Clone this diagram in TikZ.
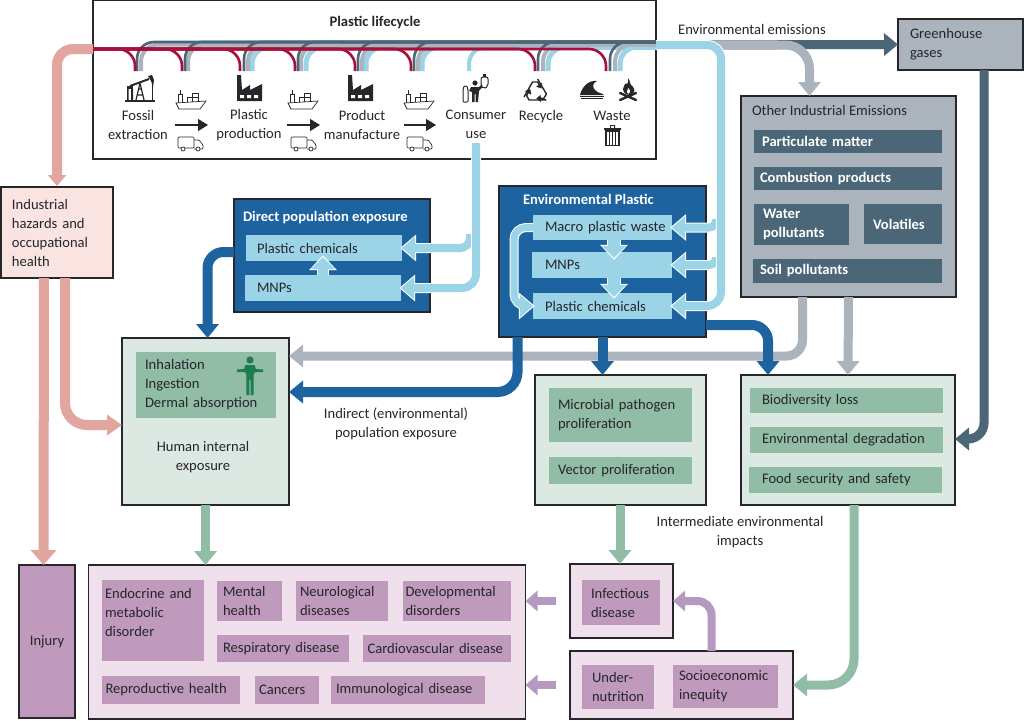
\documentclass[tikz,border=0pt]{standalone}
\usepackage{fontspec}
\setmainfont{Carlito}
\usetikzlibrary{arrows.meta}

\definecolor{inkc}{HTML}{26262B}
\definecolor{redc}{HTML}{A80F3C}
\definecolor{pinkc}{HTML}{E3A59F}
\definecolor{palepink}{HTML}{F9E4E2}
\definecolor{slatec}{HTML}{4B6777}
\definecolor{grayc}{HTML}{ABB4BC}
\definecolor{lightc}{HTML}{9BD4E7}
\definecolor{deepc}{HTML}{1D639F}
\definecolor{greenc}{HTML}{91BCA6}
\definecolor{palegreen}{HTML}{DCE8E2}
\definecolor{plumc}{HTML}{BF9ABD}
\definecolor{paleplum}{HTML}{EFE0EC}
\definecolor{mauvec}{HTML}{B59ABF}
\definecolor{manc}{HTML}{1E7D4F}

\tikzset{
  lab/.style={font=\fontsize{14.6}{19}\selectfont,text=inkc,inner sep=0pt,outer sep=0pt},
  sized/.style n args={3}{lab,anchor=north west,align=left,text width=#1-2*#3,
    inner xsep=#3,minimum height=#2},
  frame/.style={anchor=north west,draw=inkc,line width=1.4pt,inner sep=0pt,outer sep=0pt},
  whitetext/.style={text=white,font=\fontsize{14.6}{19}\selectfont\bfseries},
  flow/.style={line width=#1,rounded corners=16pt},
  flow/.default=9pt,
  tip/.style={-{Triangle[width=22pt,length=14pt]}},
  lightflow/.style={draw=lightc,line width=#1,rounded corners=14pt,
    -{Triangle[width=22pt,length=13pt]},
    preaction={draw=white,line width=#1+2pt,shorten >=-1.8pt,-{Triangle[width=26pt,length=16pt]}}},
  lightflow/.default=8pt,
  shortflow/.style={draw=lightc,line width=#1,
    -{Triangle[width=23pt,length=12pt]},
    preaction={draw=white,line width=#1+2pt,shorten >=-1.8pt,-{Triangle[width=27pt,length=15pt]}}},
  band/.style={rounded corners=17pt},
  factorypic/.pic={
    \fill[inkc] (0,26) -- (0,0) -- (4,0) -- (5,15) -- (13,10) -- (13,15) -- (25,9) -- (25,26) -- cycle;
    \fill[white] (3,20) rectangle (7,23) (10,20) rectangle (14,23) (17,20) rectangle (21,23);
  },
  pumppic/.pic={
    \fill[inkc] (0,24.5) rectangle (30,26.5);
    \draw[inkc,line width=2pt] (5,11) -- (24,4);
    \fill[inkc] (23,1) -- (27,0) -- (29,5) -- (28,12) -- (26,6) -- cycle;
    \draw[inkc,line width=1pt] (27,8) -- (27,25);
    \draw[inkc,line width=1.2pt] (15,8) -- (11,25) (15,8) -- (19,25) (13,14) -- (17,14) (12,20) -- (18,20);
    \fill[inkc] (2,11) rectangle (8,14);
    \fill[inkc] (2,14) rectangle (3.5,25) (6,14) rectangle (8,25);
  },
  shippic/.pic={
    \draw[inkc,line width=.7pt,fill=white] (0,13) -- (30,11) -- (24,19) -- (3,19) -- cycle;
    \draw[inkc,line width=.7pt] (2,13) -- (2,4) -- (6,4) -- (6,13) (4,4) -- (4,0);
    \draw[inkc,line width=.7pt] (11,12) -- (11,7) -- (16,7) -- (16,12) (16,7) -- (16,3) -- (22,3) -- (22,11) (16,7) -- (22,7);
  },
  truckpic/.pic={
    \draw[inkc,line width=.7pt,rounded corners=1pt] (0,11) -- (0,0) -- (16,0) -- (16,11) -- cycle;
    \draw[inkc,line width=.7pt,rounded corners=1pt] (16,3) -- (21,3) -- (25,8) -- (25,12) -- (16,12);
    \draw[inkc,line width=.7pt,fill=white] (5,12) circle (2) (20,12) circle (2);
  },
  consumerpic/.pic={
    \fill[inkc] (13,9) circle (2.6);
    \fill[inkc] (9,13) -- (17,13) -- (21,9) -- (22,11) -- (17,17) -- (16,28) -- (13.5,28) -- (13.5,20) -- (12.5,20) -- (12.5,28) -- (10,28) -- (10,18) -- (7,17) -- cycle;
    \draw[inkc,line width=1pt,fill=white,rounded corners=1pt] (1,16) -- (2,12) -- (5,12) -- (6,16) -- (6,28) -- (1,28) -- cycle;
    \draw[inkc,line width=1pt,fill=white,rounded corners=2pt] (19,3) -- (26,3) -- (26,12) -- (22,15) -- (19,12) -- cycle;
    \fill[inkc] (21,0) rectangle (24,3);
  },
  recyclepic/.pic={
    \draw[inkc,line width=1.4pt,-{Triangle[width=7pt,length=4.5pt]}] (-12,5) -- (-3.5,-10) -- (1.5,-10) -- (5.5,-3.5);
    \draw[inkc,line width=1.4pt,-{Triangle[width=7pt,length=4.5pt]},rotate=120] (-12,5) -- (-3.5,-10) -- (1.5,-10) -- (5.5,-3.5);
    \draw[inkc,line width=1.4pt,-{Triangle[width=7pt,length=4.5pt]},rotate=240] (-12,5) -- (-3.5,-10) -- (1.5,-10) -- (5.5,-3.5);
  },
  wavepic/.pic={
    \fill[inkc] (0,15) .. controls (2,7) and (8,0) .. (17,1) .. controls (12,3) and (12,8) .. (16,11) .. controls (18,13) and (22,13) .. (24,15) -- cycle;
    \draw[inkc,line width=1pt] (0,16.5) -- (24,16.5) (1,18.5) -- (23,18.5);
  },
  firepic/.pic={
    \fill[inkc] (10,0) .. controls (13,4) and (11,6) .. (15,9) .. controls (18,12) and (16,16) .. (12,17) .. controls (9,17) and (5,15) .. (5,11) .. controls (5,8) and (7,8) .. (7,6) .. controls (9,7) and (11,5) .. (10,0) -- cycle;
    \fill[white] (10.5,10) .. controls (12,12) and (13,13) .. (10.5,16) .. controls (8,14) and (9,12) .. (10.5,10) -- cycle;
    \draw[inkc,line width=2.4pt,line cap=round] (2,15) -- (18,22) (18,15) -- (2,22);
  },
  trashpic/.pic={
    \fill[inkc] (0,3) rectangle (17,5) (6,0) rectangle (11,3);
    \fill[white] (7.2,1.2) rectangle (9.8,3);
    \draw[inkc,line width=1.2pt] (2,6) rectangle (15,20.5);
    \draw[inkc,line width=1.4pt] (5.5,7) -- (5.5,20) (8.5,7) -- (8.5,20) (11.5,7) -- (11.5,20);
  },
  manpic/.pic={
    \fill[manc] (0,0) circle (3.6);
    \fill[manc] (-4.5,5) -- (4.5,5) -- (6,9) -- (13,9.5) -- (13,12) -- (5,12) -- (3.6,15) -- (3.6,35) -- (.6,35) -- (.6,20) -- (-.6,20) -- (-.6,35) -- (-3.6,35) -- (-3.6,15) -- (-5,12) -- (-13,12) -- (-13,9.5) -- (-6,9) -- cycle;
  }
}

\begin{document}
\begin{tikzpicture}[x=1pt,y=-1pt]

\useasboundingbox (0,0) rectangle (1024,720);

% lifecycle
\node[frame,minimum width=563,minimum height=159] (lifecycle) at (93,0) {};
\node[lab,font=\fontsize{14.6}{19}\selectfont\bfseries] (lifetitle) at (375,23) {Plastic lifecycle};

\coordinate (f1) at (135,71);
\coordinate (f2) at (182,71);
\coordinate (f3) at (240,71);
\coordinate (f4) at (295,71);
\coordinate (f5) at (355,71);
\coordinate (f6) at (411,71);
\coordinate (f7) at (535,71);
\coordinate (f8) at (606,71);
\coordinate (fuse) at (469,71);
\coordinate (redstart) at (93,49);
\coordinate (slateend) at (656,42);
\coordinate (grayend) at (656,44.5);
\coordinate (blueend) at (656,47);
\coordinate (bandexit) at (656,45);

\draw[draw=lightc,line width=5pt,band] (f3) ++(12,0) |- (blueend);
\draw[draw=lightc,line width=5pt,band] (f4) ++(11,0) |- (blueend);
\draw[draw=lightc,line width=5pt,band] (f5) ++(11,0) |- (blueend);
\draw[draw=lightc,line width=5pt,band] (f6) ++(11,0) |- (blueend);
\draw[draw=lightc,line width=4pt,band] (fuse) |- (blueend);
\draw[draw=lightc,line width=5pt,band] (f7) ++(13,0) |- (blueend);
\draw[draw=lightc,line width=5pt,band] (f8) ++(14,0) |- (blueend);

\draw[draw=grayc,line width=4pt,band] (f1) ++(6,0) |- (grayend);
\draw[draw=grayc,line width=4pt,band] (f2) ++(6,0) |- (grayend);
\draw[draw=grayc,line width=4pt,band] (f3) ++(8,0) |- (grayend);
\draw[draw=grayc,line width=4pt,band] (f4) ++(6,0) |- (grayend);
\draw[draw=grayc,line width=4pt,band] (f5) ++(7,0) |- (grayend);
\draw[draw=grayc,line width=4pt,band] (f6) ++(7,0) |- (grayend);
\draw[draw=grayc,line width=4pt,band] (f7) ++(8,0) |- (grayend);
\draw[draw=grayc,line width=4pt,band] (f8) ++(9,0) |- (grayend);

\draw[draw=slatec,line width=2.6pt,band] (f1) ++(2,0) |- (slateend);
\draw[draw=slatec,line width=2.6pt,band] (f2) ++(3,0) |- (slateend);
\draw[draw=slatec,line width=2.6pt,band] (f3) ++(4,0) |- (slateend);
\draw[draw=slatec,line width=2.6pt,band] (f4) ++(3,0) |- (slateend);
\draw[draw=slatec,line width=2.6pt,band] (f5) ++(3,0) |- (slateend);
\draw[draw=slatec,line width=2.6pt,band] (f6) ++(3,0) |- (slateend);
\draw[draw=slatec,line width=2.6pt,band] (f7) ++(3,0) |- (slateend);
\draw[draw=slatec,line width=2.6pt,band] (f8) ++(4,0) |- (slateend);

\draw[pinkc,flow=10pt,-{Triangle[width=18pt,length=11pt]}] (redstart) -| (57,186);

\draw[draw=redc,line width=2.6pt,band] (f1) |- (redstart);
\draw[draw=redc,line width=2.6pt,band] (f2) |- (redstart);
\draw[draw=redc,line width=2.6pt,band] (f3) |- (redstart);
\draw[draw=redc,line width=2.6pt,band] (f4) |- (redstart);
\draw[draw=redc,line width=2.6pt,band] (f5) |- (redstart);
\draw[draw=redc,line width=2.6pt,band] (f6) |- (redstart);
\draw[draw=redc,line width=2.6pt,band] (f7) |- (redstart);
\draw[draw=redc,line width=2.6pt,band] (f8) |- (redstart);

% icons and stages
\pic at (125,75) {pumppic};
\pic at (237,75) {factorypic};
\pic at (348,75) {factorypic};
\pic at (176,90) {shippic};
\pic at (288,90) {shippic};
\pic at (404,90) {shippic};
\pic at (178,137) {truckpic};
\pic at (291,137) {truckpic};
\pic at (407,137) {truckpic};
\pic at (462,74) {consumerpic};
\pic at (536,92) {recyclepic};
\pic at (580,80) {wavepic};
\pic at (618,78) {firepic};
\pic at (604,125) {trashpic};

\node[lab,align=center] (fossil) at (138,125) {Fossil\\extraction};
\node[lab,align=center] (production) at (249,125.5) {Plastic\\production};
\node[lab,align=center] (manufacture) at (362,125) {Product\\manufacture};
\node[lab,align=center] (consumer) at (476,124.5) {Consumer\\use};
\node[lab] (recycle) at (541,117) {Recycle};
\node[lab] (waste) at (612,116) {Waste};

\coordinate (ar1) at (175,125);
\coordinate (ar2) at (287,125);
\coordinate (ar3) at (404,125);
\draw[inkc,line width=1.3pt,-{Triangle[width=12pt,length=10pt]}] (ar1) -- ++(33,0);
\draw[inkc,line width=1.3pt,-{Triangle[width=12pt,length=10pt]}] (ar2) -- ++(33,0);
\draw[inkc,line width=1.3pt,-{Triangle[width=12pt,length=10pt]}] (ar3) -- ++(32,0);

% left column
\node[frame,sized={112}{91}{11},fill=palepink] (industrial) at (1,187) {Industrial\\hazards and\\occupational\\health};

% direct exposure
\node[frame,fill=deepc,minimum width=196,minimum height=113] (direct) at (234,199) {};
\node[lab,whitetext,anchor=west] (directtitle) at (243,218) {Direct population exposure};
\node[sized={156}{26}{11},fill=lightc] (chemA) at (246,235) {Plastic chemicals};
\node[sized={156}{26}{12},fill=lightc] (mnpA) at (245,275) {MNPs};

% environmental plastic
\node[frame,fill=deepc,minimum width=207,minimum height=151] (environ) at (499,186) {};
\node[lab,whitetext,anchor=west] (environtitle) at (523,199) {Environmental Plastic};
\node[sized={139}{25}{12},fill=lightc] (macro) at (533,215) {\mbox{Macro plastic waste}};
\node[sized={140}{26}{13},fill=lightc] (mnpE) at (532,252) {MNPs};
\node[sized={139}{26}{12},fill=lightc] (chemE) at (533,293) {Plastic chemicals};

% other emissions
\node[frame,sized={125}{51}{12},fill=grayc] (greenhouse) at (898,19) {Greenhouse\\gases};
\node[frame,fill=grayc,minimum width=215,minimum height=201] (other) at (741,96) {};
\node[lab,anchor=west] (othertitle) at (752,110) {Other Industrial Emissions};
\node[sized={188}{23}{8},fill=slatec,whitetext] (particulate) at (754,130) {Particulate matter};
\node[sized={188}{23}{6},fill=slatec,whitetext] (combustion) at (754,167) {Combustion products};
\node[sized={95}{41}{9},fill=slatec,whitetext] (water) at (754,204) {Water\\pollutants};
\node[sized={78}{40}{9},fill=slatec,whitetext] (volatiles) at (864,204) {Volatiles};
\node[sized={189}{24}{7},fill=slatec,whitetext] (soil) at (753,259) {Soil pollutants};

% human exposure
\node[frame,fill=palegreen,minimum width=167,minimum height=167] (human) at (122,338) {};
\node[sized={140}{66}{9},fill=greenc] (routes) at (136,352) {Inhalation\\Ingestion\\Dermal absorption};
\pic at (250,360) {manpic};
\node[lab,align=center] (humantext) at (203,457) {Human internal\\exposure};

% intermediate impacts
\node[frame,fill=palegreen,minimum width=171,minimum height=130] (vector) at (535,375) {};
\node[sized={143}{54}{9},fill=greenc] (microbial) at (549,388) {Microbial pathogen\\proliferation};
\node[sized={143}{27}{9},fill=greenc] (vectorbox) at (549,457) {Vector proliferation};
\node[frame,fill=palegreen,minimum width=214,minimum height=130] (impacts) at (741,375) {};
\node[sized={193}{25}{12},fill=greenc] (biodiversity) at (750,388) {Biodiversity loss};
\node[sized={193}{26}{12},fill=greenc] (degradation) at (750,427) {Environmental degradation};
\node[sized={193}{26}{13},fill=greenc] (food) at (749,467) {Food security and safety};

% health outcomes
\node[frame,sized={56}{153}{9},fill=plumc,align=center] (injury) at (19,565) {Injury};
\node[frame,fill=paleplum,minimum width=437,minimum height=154] (health) at (88.5,565) {};
\node[sized={102}{81}{3},fill=plumc] (endocrine) at (102,580) {Endocrine and\\metabolic\\disorder\\[-3pt]~};
\node[sized={65}{40}{6},fill=plumc] (mental) at (217,580.5) {Mental\\health};
\node[sized={92}{40}{4},fill=plumc] (neuro) at (296,580.5) {Neurological\\diseases};
\node[sized={108}{40}{3},fill=plumc] (develop) at (402.5,580.5) {Developmental\\disorders};
\node[sized={132}{27}{6},fill=plumc] (respiratory) at (217,635) {Respiratory disease};
\node[sized={147.5}{27}{4.5},fill=plumc] (cardio) at (363,635) {Cardiovascular disease};
\node[sized={138}{28}{3.5},fill=plumc] (repro) at (102,675.5) {Reproductive health};
\node[sized={64}{28}{4.5},fill=plumc] (cancers) at (254.5,675.5) {Cancers};
\node[sized={154}{28}{5},fill=plumc] (immuno) at (331,675.5) {Immunological disease};
\node[frame,fill=paleplum,minimum width=103,minimum height=74] (infbox) at (570,564) {};
\node[sized={78}{45}{9},fill=plumc] (infectious) at (582,580) {Infectious\\disease};
\node[frame,fill=paleplum,minimum width=223,minimum height=68] (social) at (570,651) {};
\node[sized={72}{44}{10},fill=plumc] (nutrition) at (582,665) {Under-\\nutrition};
\node[sized={105}{43}{6},fill=plumc] (inequity) at (673,665) {Socioeconomic\\inequity};

% free labels
\node[lab] (emissions) at (752,29) {Environmental emissions};
\node[lab,align=center] (indirect) at (396,424) {Indirect (environmental)\\population exposure};
\node[lab,align=center] (intermediate) at (740,532) {Intermediate environmental\\impacts};

% flows
\draw[slatec,flow=9pt,tip] (bandexit) -- (greenhouse.west);
\draw[grayc,flow=9pt,rounded corners=24pt,tip] (bandexit) -| ([xshift=-39pt]other.north);

\coordinate (bluebend) at (721,45);
\coordinate (usefoot) at (476,143);
\coordinate (branchA) at (716,219);
\coordinate (branchB) at (716,257);
\coordinate (branchC) at (470,234);
\draw[lightflow,rounded corners=7pt] (branchA) |- (macro.east);
\draw[lightflow,rounded corners=7pt] (branchB) |- (mnpE.east);
\draw[lightflow] (bandexit) -- (bluebend) |- (chemE.east);
\draw[lightflow,rounded corners=10pt] (branchC) |- (chemA.east);
\draw[lightflow] (usefoot) |- (mnpA.east);

\coordinate (loopside) at (514,270);
\coordinate (dropA) at (614,240);
\coordinate (dropB) at (614,278);
\coordinate (riseA) at (323,275);
\draw[lightflow=7pt,rounded corners=12pt] (macro.west) -| (loopside) |- (chemE.west);
\draw[shortflow=12pt] (dropA) -- ++(0,18);
\draw[shortflow=12pt] (dropB) -- ++(0,19);
\draw[shortflow=10pt] (riseA) -- ++(0,-18);

\draw[grayc,flow=9pt,tip] ([xshift=-46pt]other.south) |- (human.east |- 0,356);
\draw[grayc,flow=9pt,tip] (other.south) -- (impacts.north);
\draw[deepc,flow=10pt,tip] (environ.south east |- 0,325) -| ([xshift=-80pt]impacts.north);
\draw[deepc,flow=10pt,tip] (environ.south) -- (environ.south |- vector.north);
\draw[deepc,flow=10pt,rounded corners=20pt,tip] ([xshift=-85pt]environ.south) |- (human.east |- 0,392);
\draw[deepc,flow=10pt,tip] (direct.west |- 0,252) -| ([xshift=2pt]human.north);

\draw[pinkc,flow=10pt,-{Triangle[width=25pt,length=15pt]}] ([xshift=-13pt]industrial.south) -- (43.5,565);
\draw[pinkc,flow=10pt,rounded corners=22pt,-{Triangle[width=20pt,length=15pt]}] ([xshift=8pt]industrial.south) |- (human.west |- 0,425);

\draw[greenc,flow=9pt,tip] (human.south) -- (health.north -| human.south);
\draw[greenc,flow=9pt,tip] ([xshift=-.5pt]vector.south) -- ([xshift=-1.5pt]infbox.north);
\draw[greenc,flow=9pt,rounded corners=26pt,tip] ([xshift=6pt]impacts.south) |- (social.east |- 0,685);
\draw[slatec,flow=9pt,tip] ([xshift=23.5pt]greenhouse.south) |- (impacts.east |- 0,439);

\draw[mauvec,flow=8pt,rounded corners=14pt,-{Triangle[width=20pt,length=12pt]}] ([xshift=30pt]social.north) |- (infbox.east |- 0,601);
\draw[mauvec,flow=8pt,-{Triangle[width=20pt,length=12pt]}] (infbox.west |- 0,601) ++(-14,0) -- (health.east |- 0,601);
\draw[mauvec,flow=8pt,-{Triangle[width=20pt,length=12pt]}] (social.west |- 0,685) ++(-14,0) -- (health.east |- 0,685);

\end{tikzpicture}
\end{document}
